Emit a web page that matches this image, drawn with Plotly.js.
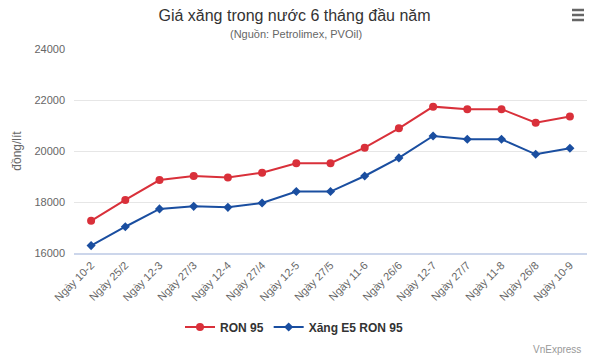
<!DOCTYPE html>
<html>
<head>
<meta charset="utf-8">
<script src="https://cdn.plot.ly/plotly-3.0.1.min.js"></script>
<style>html,body{margin:0;padding:0;background:#fff}#chart{width:589px;height:356px}</style>
</head>
<body>
<div id="chart"></div>
<script>
const categories = ["Ngày 10-2","Ngày 25/2","Ngày 12-3","Ngày 27/3","Ngày 12-4","Ngày 27/4","Ngày 12-5","Ngày 27/5","Ngày 11-6","Ngày 26/6","Ngày 12-7","Ngày 27/7","Ngày 11-8","Ngày 26/8","Ngày 10-9"];
const ron95 = [17260,18080,18860,19020,18960,19150,19520,19520,20130,20890,21740,21640,21640,21110,21350];
const e5ron95 = [16290,17030,17730,17830,17790,17960,18410,18410,19020,19730,20590,20460,20460,19870,20110];
const yTicks = [16000,18000,20000,22000,24000];

const font = '"Liberation Sans", Arial, sans-serif';
const traces = [
  {x: categories, y: ron95, name: "RON 95", type: "scatter", mode: "lines+markers",
   line: {color: "#d9303a", width: 2}, marker: {symbol: "circle", size: 8, color: "#d9303a"}},
  {x: categories, y: e5ron95, name: "Xăng E5 RON 95", type: "scatter", mode: "lines+markers",
   line: {color: "#1a4ea0", width: 2}, marker: {symbol: "diamond", size: 7, color: "#1a4ea0"}}
];
const layout = {
  width: 589, height: 356,
  margin: {l: 74, r: 2, t: 49, b: 103},
  paper_bgcolor: "#fff", plot_bgcolor: "#fff",
  font: {family: font, color: "#666"},
  showlegend: true,
  title: {text: "Giá xăng trong nước 6 tháng đầu năm", x: 0.5, xref: "container", xanchor: "center",
          y: 1 - 15/356, yref: "container", yanchor: "middle", font: {size: 16, color: "#333", family: font}},
  xaxis: {type: "category", tickangle: -45, tickfont: {size: 11, color: "#666"},
          showgrid: false, showline: true, linecolor: "#ccd6eb", linewidth: 1.5, ticks: "", fixedrange: true,
          range: [-0.5, categories.length - 0.5]},
  yaxis: {range: [16000, 24000], tickvals: yTicks, ticktext: yTicks.map(String),
          tickfont: {size: 11, color: "#666"}, gridcolor: "#e6e6e6", gridwidth: 1, zeroline: false,
          showline: false, ticks: "", ticklabelstandoff: 8,
          title: {text: "đồng/lít", font: {size: 12, color: "#666"}, standoff: 10}},
  legend: {orientation: "h", x: (294.5-74)/513, xanchor: "center", y: (253-327)/204, yanchor: "middle",
           font: {size: 12, color: "#333", family: font, weight: "bold"}},
  annotations: [
    {text: "(Nguồn: Petrolimex, PVOil)", xref: "paper", yref: "paper", x: (296-74)/513, y: (253-34)/204,
     xanchor: "center", yanchor: "middle", showarrow: false, font: {size: 11, color: "#666"}},
    {text: "VnExpress", xref: "paper", yref: "paper", x: (583-74)/513, y: (253-349)/204,
     xanchor: "right", yanchor: "middle", showarrow: false, font: {size: 10, color: "#999"}}
  ],
  shapes: [10,15,20].map(py => ({type: "line", xref: "paper", yref: "paper",
     x0: (572-74)/513, x1: (584-74)/513, y0: (253-py)/204, y1: (253-py)/204,
     line: {color: "#666", width: 2.5}}))
};
Plotly.newPlot("chart", traces, layout, {displayModeBar: false, staticPlot: true});
</script>
</body>
</html>
